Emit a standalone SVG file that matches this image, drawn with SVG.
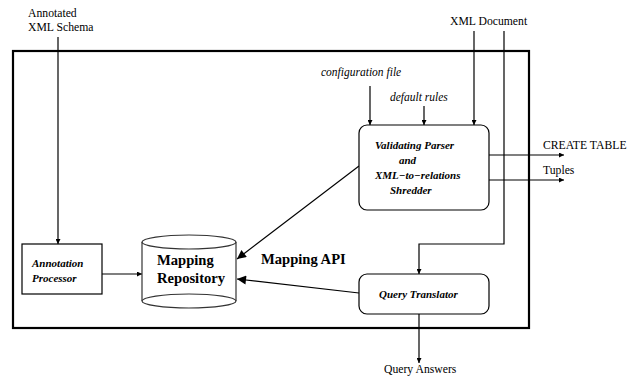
<svg xmlns="http://www.w3.org/2000/svg" width="644" height="378" viewBox="0 0 644 378">
  <defs>
    <marker id="arr" viewBox="0 0 10 10" refX="10" refY="5" markerWidth="7" markerHeight="5" markerUnits="userSpaceOnUse" orient="auto">
      <path d="M0,0 L10,5 L0,10 z" fill="#000"/>
    </marker>
    <marker id="arrBig" viewBox="0 0 10 10" refX="10" refY="5" markerWidth="13" markerHeight="9" markerUnits="userSpaceOnUse" orient="auto">
      <path d="M0,0 L10,5 L0,10 z" fill="#000"/>
    </marker>
    <style>
      .lbl { font-family: "Liberation Serif", "Times New Roman", serif; font-size: 11.7px; fill: #000; }
      .it { font-family: "Liberation Serif", "Times New Roman", serif; font-size: 11.5px; font-style: italic; fill: #000; }
      .bi { font-family: "Liberation Serif", "Times New Roman", serif; font-size: 11px; font-style: italic; font-weight: bold; fill: #000; }
      .bold { font-family: "Liberation Serif", "Times New Roman", serif; font-size: 14.6px; font-weight: bold; fill: #000; }
      .box { fill: #fff; stroke: #000; stroke-width: 1.2; }
      .conn { fill: none; stroke: #000; stroke-width: 1.2; }
    </style>
  </defs>

  <!-- system boundary -->
  <rect id="system" x="13" y="51" width="516" height="277" fill="none" stroke="#000" stroke-width="2.2"/>

  <!-- external inputs and outputs -->
  <text class="lbl" x="28" y="17">Annotated</text>
  <text class="lbl" x="28" y="31">XML Schema</text>
  <text class="lbl" x="450" y="25">XML Document</text>
  <text class="it" x="321" y="76">configuration file</text>
  <text class="it" x="390" y="101">default rules</text>
  <text class="lbl" x="543" y="149">CREATE TABLE</text>
  <text class="lbl" x="543" y="174">Tuples</text>
  <text class="lbl" x="384" y="373">Query Answers</text>
  <text class="bold" x="261" y="264">Mapping API</text>

  <!-- connectors -->
  <g id="connectors">
    <line class="conn" x1="58" y1="37" x2="58" y2="244" marker-end="url(#arr)"/>
    <line class="conn" x1="102" y1="274" x2="142" y2="274" marker-end="url(#arr)"/>
    <line class="conn" x1="370" y1="86" x2="370" y2="125" marker-end="url(#arr)"/>
    <line class="conn" x1="424" y1="106" x2="424" y2="125" marker-end="url(#arr)"/>
    <line class="conn" x1="474" y1="31" x2="474" y2="125" marker-end="url(#arr)"/>
    <polyline class="conn" points="504,31 504,244 419,244 419,274" marker-end="url(#arr)"/>
    <line class="conn" x1="489" y1="155" x2="564" y2="155" marker-end="url(#arr)"/>
    <line class="conn" x1="489" y1="180" x2="564" y2="180" marker-end="url(#arr)"/>
    <line class="conn" x1="359" y1="166" x2="237" y2="259" marker-end="url(#arrBig)"/>
    <line class="conn" x1="359" y1="293" x2="237" y2="279" marker-end="url(#arrBig)"/>
    <line class="conn" x1="419" y1="314" x2="419" y2="363" marker-end="url(#arr)"/>
  </g>

  <!-- Annotation Processor -->
  <g id="annotation-processor">
    <rect class="box" x="22" y="244" width="80" height="50" stroke="#333"/>
    <text class="bi" x="32" y="267">Annotation</text>
    <text class="bi" x="32" y="282">Processor</text>
  </g>

  <!-- Mapping Repository (cylinder) -->
  <g id="mapping-repository">
    <rect x="142" y="242" width="94" height="59" fill="#fff" stroke="none"/>
    <line x1="142" y1="242" x2="142" y2="301" stroke="#333" stroke-width="1.2"/>
    <line x1="236" y1="242" x2="236" y2="301" stroke="#333" stroke-width="1.2"/>
    <ellipse cx="189" cy="242" rx="47" ry="7" fill="#fff" stroke="#333" stroke-width="1.2"/>
    <ellipse cx="189" cy="301" rx="47" ry="7" fill="#fff" stroke="#333" stroke-width="1.2"/>
    <text class="bold" x="157" y="265">Mapping</text>
    <text class="bold" x="157" y="283">Repository</text>
  </g>

  <!-- Validating Parser and Shredder -->
  <g id="validating-parser">
    <rect class="box" x="359" y="125" width="130" height="85" rx="8" ry="8"/>
    <text class="bi" x="375" y="149">Validating Parser</text>
    <text class="bi" x="399" y="164">and</text>
    <text class="bi" x="375" y="179">XML−to−relations</text>
    <text class="bi" x="390" y="194">Shredder</text>
  </g>

  <!-- Query Translator -->
  <g id="query-translator">
    <rect class="box" x="359" y="274" width="130" height="40" rx="8" ry="8"/>
    <text class="bi" x="379" y="298">Query Translator</text>
  </g>
</svg>
